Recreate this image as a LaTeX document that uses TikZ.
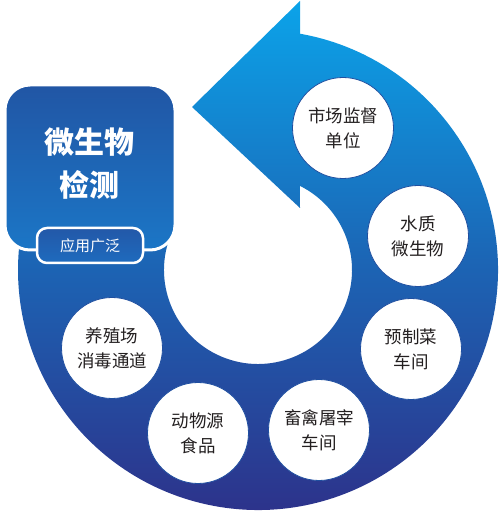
\documentclass[tikz,border=0pt]{standalone}
\usepackage{fontspec}
\newfontfamily\cjk{Noto Sans CJK SC}
\definecolor{ringtop}{HTML}{0BA3E9}
\definecolor{ringmid}{HTML}{1C64B4}
\definecolor{ringbot}{HTML}{2E2F88}
\definecolor{boxtop}{HTML}{2156A5}
\definecolor{boxbot}{HTML}{1B76C6}
\definecolor{tabtop}{HTML}{2358A8}
\definecolor{tabbot}{HTML}{1E6BBE}
\definecolor{circborder}{HTML}{1F4FA0}
\definecolor{textdark}{HTML}{231F20}
\pgfdeclareverticalshading{ringshade}{100bp}{color(0bp)=(ringbot); color(25bp)=(ringbot); color(50bp)=(ringmid); color(75bp)=(ringtop); color(100bp)=(ringtop)}
\tikzset{
  bubble/.style={circle, fill=white, draw=circborder, line width=0.8pt, minimum size=101pt, inner sep=0pt,
    align=center, text=textdark, font=\cjk\fontsize{17.5}{25}\selectfont},
  mainbox/.style={draw=white, line width=3pt, rounded corners=25pt, minimum width=170pt, minimum height=165pt,
    inner sep=0pt, top color=boxtop, bottom color=boxbot},
  maintext/.style={align=center, text=white, font=\cjk\bfseries\fontsize{30}{43}\selectfont},
  tabbox/.style={draw=white, line width=2.5pt, rounded corners=10pt, minimum width=106pt, minimum height=35pt,
    inner sep=0pt, top color=tabtop, bottom color=tabbot, text=white, font=\cjk\fontsize{15}{18}\selectfont}
}
\begin{document}
\begin{tikzpicture}[x=1pt,y=1pt]
\useasboundingbox (0,0) rectangle (500,512);
\coordinate (C) at (258,242);
\coordinate (tip) at (192,405);
\coordinate (headtop) at (300,511);
\coordinate (headbot) at (300,304);
\shade[shading=ringshade] (tip) -- (headtop) -- ([shift={(C)}]79.9:240)
  arc[start angle=79.9, end angle=-203, radius=240]
  -- ([shift={(C)}]157:94)
  arc[start angle=157, end angle=423.5, radius=94]
  -- (headbot) -- cycle;
\node[mainbox] (box) at (90,344.5) {};
\node[maintext] (title) at (90,348.5) {微生物\\检测};
\node[tabbox] (tab) at (90,266.5) {应用广泛};
\node[bubble] (c1) at (343,384) {市场监督\\单位};
\node[bubble] (c2) at (418,276) {水质\\微生物};
\node[bubble] (c3) at (411,163) {预制菜\\车间};
\node[bubble] (c4) at (319,82) {畜禽屠宰\\车间};
\node[bubble] (c5) at (198,79) {动物源\\食品};
\node[bubble] (c6) at (112,164) {养殖场\\消毒通道};
\end{tikzpicture}
\end{document}
